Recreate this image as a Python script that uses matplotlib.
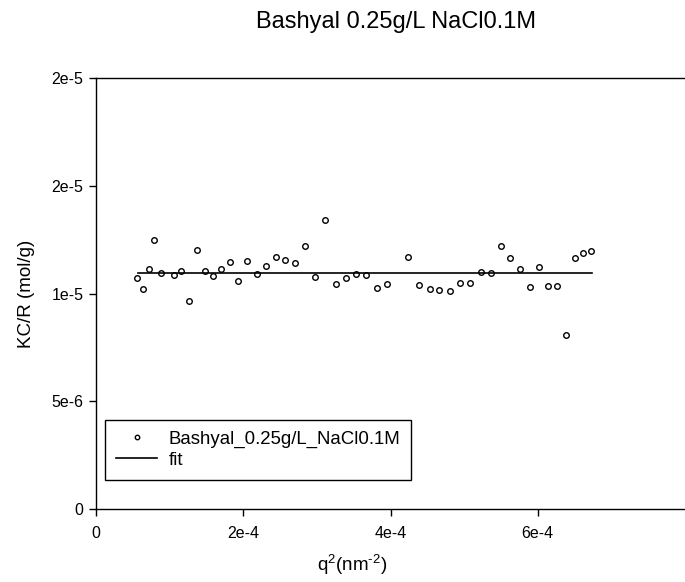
import numpy as np
import matplotlib.pyplot as plt

plt.rcParams['font.family'] = ['Liberation Sans', 'DejaVu Sans']
plt.rcParams['mathtext.fontset'] = 'custom'
plt.rcParams['mathtext.rm'] = 'Liberation Sans'
plt.rcParams['mathtext.default'] = 'regular'

# q^2 (nm^-2) and KC/R (mol/g)
q2 = [5.61e-5, 6.33e-5, 7.14e-5, 7.92e-5, 8.83e-5, 1.063e-4, 1.158e-4, 1.263e-4,
      1.366e-4, 1.475e-4, 1.583e-4, 1.701e-4, 1.814e-4, 1.932e-4, 2.054e-4, 2.181e-4,
      2.308e-4, 2.439e-4, 2.570e-4, 2.702e-4, 2.838e-4, 2.974e-4, 3.113e-4, 3.253e-4,
      3.389e-4, 3.530e-4, 3.670e-4, 3.815e-4, 3.955e-4, 4.240e-4, 4.386e-4, 4.530e-4,
      4.665e-4, 4.807e-4, 4.950e-4, 5.086e-4, 5.227e-4, 5.363e-4, 5.499e-4, 5.629e-4,
      5.761e-4, 5.893e-4, 6.019e-4, 6.141e-4, 6.263e-4, 6.386e-4, 6.504e-4, 6.616e-4,
      6.725e-4]
kcr = [10.71e-6, 10.21e-6, 11.15e-6, 12.47e-6, 10.95e-6, 10.86e-6, 11.04e-6, 9.67e-6,
       12.03e-6, 11.06e-6, 10.83e-6, 11.12e-6, 11.46e-6, 10.59e-6, 11.49e-6, 10.89e-6,
       11.26e-6, 11.68e-6, 11.54e-6, 11.40e-6, 12.20e-6, 10.78e-6, 13.40e-6, 10.43e-6,
       10.72e-6, 10.90e-6, 10.87e-6, 10.27e-6, 10.45e-6, 11.68e-6, 10.41e-6, 10.21e-6,
       10.18e-6, 10.13e-6, 10.50e-6, 10.50e-6, 11.01e-6, 10.94e-6, 12.20e-6, 11.67e-6,
       11.14e-6, 10.29e-6, 11.22e-6, 10.36e-6, 10.35e-6, 8.06e-6, 11.66e-6, 11.87e-6,
       11.97e-6]
fit_x = [5.70e-5, 6.74e-4]
fit_y = [10.95e-6, 10.95e-6]

xticks = [0, 2e-4, 4e-4, 6e-4]
xticklabels = ['0', '2e-4', '4e-4', '6e-4']
yticks = [0, 5e-6, 1e-5, 1.5e-5, 2e-5]
yticklabels = ['0', '5e-6', '1e-5', '2e-5', '2e-5']

fig = plt.figure(figsize=(6.85, 5.82), dpi=100)
ax = fig.add_axes([96/685, 73/582, 589/685, 431/582])

ax.plot(q2, kcr, 'o', mfc='none', mec='black', ms=4, mew=1,
        label='Bashyal_0.25g/L_NaCl0.1M')
ax.plot(fit_x, fit_y, '-', color='black', lw=1.2, label='fit')

ax.set_xlim(0, 8e-4)
ax.set_ylim(0, 2e-5)
ax.set_xticks(xticks)
ax.set_xticklabels(xticklabels)
ax.set_yticks(yticks)
ax.set_yticklabels(yticklabels)
ax.tick_params(direction='out', length=5, width=1, labelsize=11.5)
ax.tick_params(axis='x', pad=7)
ax.tick_params(axis='y', pad=4)
ax.spines['right'].set_visible(False)
for s in ['left', 'bottom', 'top']:
    ax.spines[s].set_linewidth(1)
ax.set_ylabel('KC/R (mol/g)', fontsize=13.5, labelpad=12)

fig.text(396/685, 1 - 22/582, 'Bashyal 0.25g/L NaCl0.1M', fontsize=17,
         ha='center', va='center')
fig.text(352/685, 1 - 565/582, r'q$^2$(nm$^{\text{-}2}$)', fontsize=13.5,
         ha='center', va='center')

leg = ax.legend(loc='lower left', bbox_to_anchor=(105/685, 102/582),
                bbox_transform=fig.transFigure, fontsize=13.4, fancybox=False,
                edgecolor='black', framealpha=1, borderpad=0.6, labelspacing=0.2,
                handlelength=2.2, handletextpad=0.6, borderaxespad=0, markerscale=0.8)
leg.get_frame().set_linewidth(1)

fig.savefig('out.png', dpi=100)
